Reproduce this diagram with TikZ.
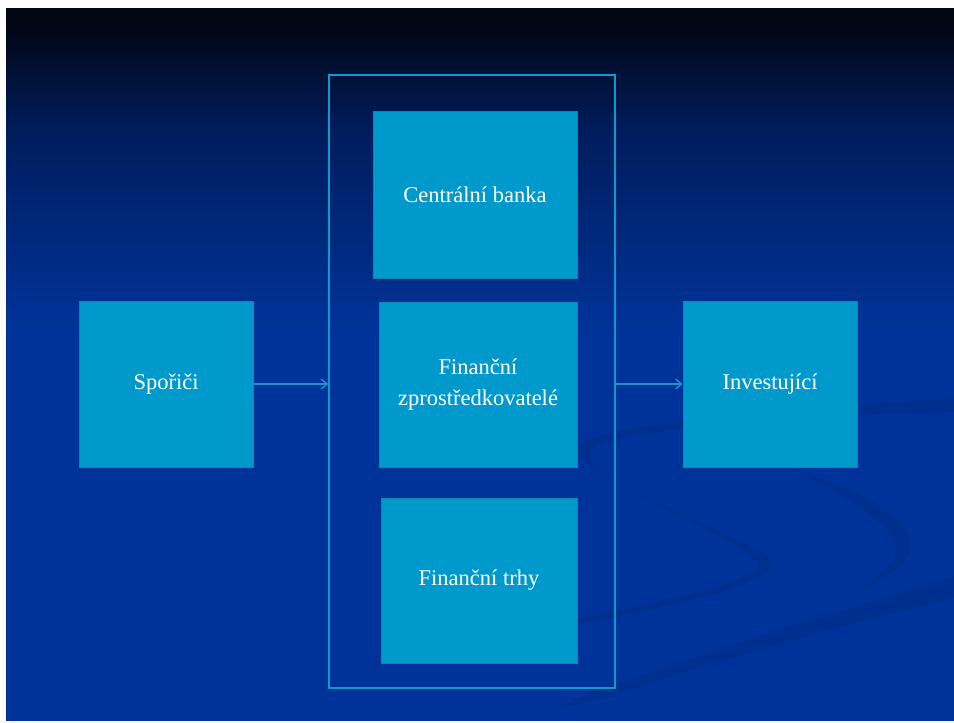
\documentclass[tikz,border=0pt]{standalone}
\usepackage{fontspec}
\setmainfont{Liberation Serif}
\usetikzlibrary{arrows.meta}
\definecolor{boxfill}{HTML}{0099CC}
\definecolor{boxedge}{HTML}{0A86B4}
\definecolor{framecol}{HTML}{0A9BD0}
\definecolor{arrowcol}{HTML}{1E90D2}
\definecolor{bgtop}{HTML}{020512}
\definecolor{bgmid}{HTML}{001C5C}
\definecolor{bgblue}{HTML}{003399}
\definecolor{swoosh}{HTML}{00308F}
\tikzset{
  block/.style={draw=boxedge, line width=0.8pt, fill=boxfill, text=white,
    font=\fontsize{22.5}{31}\selectfont, align=center, inner sep=0pt},
  outerframe/.style={draw=framecol, line width=1.6pt, inner sep=0pt},
  flow/.style={draw=arrowcol, line width=1.4pt,
    -{Straight Barb[length=6pt,width=10pt,line width=1.4pt]}},
}
\begin{document}
\begin{tikzpicture}[x=1pt,y=-1pt]
  % page and background
  \useasboundingbox (0,0) rectangle (954,723);
  \fill[white] (0,0) rectangle (954,723);
  \fill[bgblue] (6,8) rectangle (954,721);
  \shade[top color=bgtop, bottom color=bgmid] (6,20) rectangle (954,130);
  \shade[top color=bgmid, bottom color=bgblue] (6,129.5) rectangle (954,330);
  \fill[bgtop] (6,8) rectangle (954,20);
  % decorative swooshes
  \fill[swoosh] (954,398) .. controls (760,410) and (590,425) .. (578,448)
    .. controls (570,470) and (700,520) .. (768,555)
    .. controls (790,575) and (720,595) .. (650,610)
    .. controls (600,620) and (570,626) .. (540,632)
    -- (540,626)
    .. controls (600,612) and (740,590) .. (760,565)
    .. controls (730,530) and (600,490) .. (590,455)
    .. controls (585,432) and (760,418) .. (954,412) -- cycle;
  \fill[swoosh] (790,468) .. controls (860,490) and (925,520) .. (908,556)
    .. controls (900,572) and (880,580) .. (858,590)
    .. controls (875,578) and (895,565) .. (896,552)
    .. controls (900,525) and (840,495) .. (790,468) -- cycle;
  \fill[swoosh] (954,576) .. controls (880,600) and (700,650) .. (560,705)
    -- (580,705) .. controls (720,660) and (880,615) .. (954,598) -- cycle;
  % outer frame around the intermediaries
  \node[outerframe, minimum width=286pt, minimum height=613pt] (frame) at (472,381.5) {};
  % boxes
  \node[block, minimum width=174pt, minimum height=166pt] (spo) at (166,384) {Spořiči};
  \node[block, minimum width=204pt, minimum height=167pt] (cb) at (475,194.5) {Centrální banka};
  \node[block, minimum width=198pt, minimum height=165pt] (fz) at (478,384.5)
    {Finanční\\zprostředkovatelé};
  \node[block, minimum width=196pt, minimum height=165pt] (ft) at (479,580.5) {Finanční trhy};
  \node[block, minimum width=174pt, minimum height=166pt] (inv) at (770,384) {Investující};
  % flows
  \draw[flow] (spo.east) -- (spo.east -| frame.west);
  \draw[flow] (inv.west -| frame.east) -- (inv.west);
\end{tikzpicture}
\end{document}
